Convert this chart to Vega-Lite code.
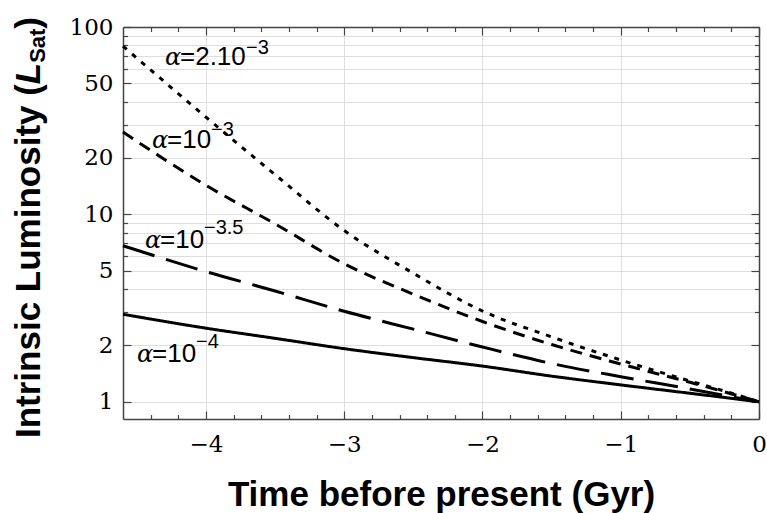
{
  "$schema": "https://vega.github.io/schema/vega-lite/v6.json",
  "width": 636,
  "height": 392,
  "autosize": "none",
  "padding": {"left": 123, "top": 27, "right": 8, "bottom": 94},
  "background": "white",
  "config": {"view": {"stroke": null}},
  "datasets": {
    "curves": [
      {"t": 0, "L": 1, "series": "a2e-3"},
      {"t": -0.25, "L": 1.14, "series": "a2e-3"},
      {"t": -0.5, "L": 1.29, "series": "a2e-3"},
      {"t": -1, "L": 1.67, "series": "a2e-3"},
      {"t": -1.5, "L": 2.22, "series": "a2e-3"},
      {"t": -2, "L": 3.05, "series": "a2e-3"},
      {"t": -2.5, "L": 4.85, "series": "a2e-3"},
      {"t": -3, "L": 8.2, "series": "a2e-3"},
      {"t": -3.5, "L": 16.3, "series": "a2e-3"},
      {"t": -4, "L": 33, "series": "a2e-3"},
      {"t": -4.3, "L": 51, "series": "a2e-3"},
      {"t": -4.6, "L": 79, "series": "a2e-3"},
      {"t": 0, "L": 1, "series": "a1e-3"},
      {"t": -0.25, "L": 1.13, "series": "a1e-3"},
      {"t": -0.5, "L": 1.27, "series": "a1e-3"},
      {"t": -1, "L": 1.59, "series": "a1e-3"},
      {"t": -1.5, "L": 2.02, "series": "a1e-3"},
      {"t": -2, "L": 2.68, "series": "a1e-3"},
      {"t": -2.5, "L": 3.75, "series": "a1e-3"},
      {"t": -3, "L": 5.45, "series": "a1e-3"},
      {"t": -3.5, "L": 8.9, "series": "a1e-3"},
      {"t": -4, "L": 14.3, "series": "a1e-3"},
      {"t": -4.6, "L": 27.5, "series": "a1e-3"},
      {"t": 0, "L": 1, "series": "a1e-3.5"},
      {"t": -0.25, "L": 1.08, "series": "a1e-3.5"},
      {"t": -0.5, "L": 1.17, "series": "a1e-3.5"},
      {"t": -1, "L": 1.36, "series": "a1e-3.5"},
      {"t": -1.5, "L": 1.6, "series": "a1e-3.5"},
      {"t": -2, "L": 1.96, "series": "a1e-3.5"},
      {"t": -2.5, "L": 2.44, "series": "a1e-3.5"},
      {"t": -3, "L": 3.04, "series": "a1e-3.5"},
      {"t": -3.5, "L": 3.9, "series": "a1e-3.5"},
      {"t": -4, "L": 4.95, "series": "a1e-3.5"},
      {"t": -4.6, "L": 6.8, "series": "a1e-3.5"},
      {"t": 0, "L": 1, "series": "a1e-4"},
      {"t": -0.5, "L": 1.11, "series": "a1e-4"},
      {"t": -1, "L": 1.23, "series": "a1e-4"},
      {"t": -1.5, "L": 1.37, "series": "a1e-4"},
      {"t": -2, "L": 1.55, "series": "a1e-4"},
      {"t": -2.5, "L": 1.72, "series": "a1e-4"},
      {"t": -3, "L": 1.92, "series": "a1e-4"},
      {"t": -3.5, "L": 2.18, "series": "a1e-4"},
      {"t": -4, "L": 2.47, "series": "a1e-4"},
      {"t": -4.6, "L": 2.93, "series": "a1e-4"}
    ],
    "labels": [
      {"kind": "alpha", "x": -4.2962, "y": 62.5, "text": "α"},
      {"kind": "alpha", "x": -4.3903, "y": 22.55, "text": "α"},
      {"kind": "alpha", "x": -4.4409, "y": 6.6, "text": "α"},
      {"kind": "alpha", "x": -4.4987, "y": 1.628, "text": "α"},
      {"kind": "lab", "x": -4.1878, "y": 62.5, "text": "=2.10"},
      {"kind": "lab", "x": -4.2818, "y": 22.55, "text": "=10"},
      {"kind": "lab", "x": -4.3324, "y": 6.6, "text": "=10"},
      {"kind": "lab", "x": -4.3903, "y": 1.628, "text": "=10"},
      {"kind": "sup", "x": -3.7104, "y": 71.5, "text": "−3"},
      {"kind": "sup", "x": -3.9635, "y": 26.13, "text": "−3"},
      {"kind": "sup", "x": -4.0141, "y": 7.84, "text": "−3.5"},
      {"kind": "sup", "x": -4.0720, "y": 1.943, "text": "−4"},
      {"kind": "yt", "x": -5.2003, "y": 0.6404, "text": "Intrinsic Luminosity ("},
      {"kind": "ytL", "x": -5.2003, "y": 49.48, "text": "L"},
      {"kind": "ytS", "x": -5.1641, "y": 64.36, "text": "Sat"},
      {"kind": "yt", "x": -5.2003, "y": 97.93, "text": ")"}
    ]
  },
  "resolve": {"axis": {"x": "independent", "y": "independent"}},
  "layer": [
    {
      "data": {"name": "curves"},
      "mark": {"type": "line", "interpolate": "monotone", "strokeWidth": 3, "color": "black"},
      "encoding": {
        "x": {
          "field": "t", "type": "quantitative",
          "scale": {"domain": [-4.6, 0], "nice": false, "zero": false},
          "axis": {
            "orient": "bottom",
            "values": [-4.4, -4.2, -4, -3.8, -3.6, -3.4, -3.2, -3, -2.8, -2.6, -2.4, -2.2, -2, -1.8, -1.6, -1.4, -1.2, -1, -0.8, -0.6, -0.4, -0.2, 0],
            "labelExpr": "abs(datum.value - round(datum.value)) < 0.001 ? (datum.value < -0.5 ? '−' + abs(round(datum.value)) : '0') : ''",
            "tickSize": {"condition": {"test": "abs(datum.value - round(datum.value)) < 0.001", "value": -8}, "value": -4.5},
            "gridOpacity": {"condition": {"test": "abs(datum.value - round(datum.value)) < 0.001 && datum.value < -0.5", "value": 1}, "value": 0},
            "grid": true, "gridColor": "#dedede", "gridWidth": 1,
            "labelPadding": 22, "labelFont": "DejaVu Serif", "labelFontSize": 23, "labelColor": "black",
            "labelFlush": false, "labelOverlap": false,
            "domainColor": "#444", "domainWidth": 1.5, "tickColor": "#444", "tickWidth": 1.2,
            "title": "Time before present (Gyr)", "titleFont": "Liberation Sans", "titleFontSize": 35,
            "titleFontWeight": "bold", "titleColor": "black", "titleBaseline": "alphabetic", "titleY": 86, "titleX": 318
          }
        },
        "y": {
          "field": "L", "type": "quantitative",
          "scale": {"type": "log", "domain": [0.809, 100], "nice": false},
          "axis": {
            "orient": "left",
            "values": [1, 2, 3, 4, 5, 6, 7, 8, 9, 10, 20, 30, 40, 50, 60, 70, 80, 90, 100],
            "labelExpr": "indexof([1, 2, 5, 10, 20, 50, 100], datum.value) >= 0 ? format(datum.value, 'd') : ''",
            "tickSize": {"condition": {"test": "indexof([1, 2, 5, 10, 20, 50, 100], datum.value) >= 0", "value": -8}, "value": -4.5},
            "grid": true, "gridColor": "#dedede", "gridWidth": 1,
            "labelPadding": 18, "labelFont": "DejaVu Serif", "labelFontSize": 23, "labelColor": "black",
            "labelOverlap": false, "labelFlush": false,
            "domainColor": "#444", "domainWidth": 1.5, "tickColor": "#444", "tickWidth": 1.2,
            "title": null
          }
        },
        "strokeDash": {
          "field": "series", "type": "nominal",
          "scale": {"domain": ["a2e-3", "a1e-3", "a1e-3.5", "a1e-4"], "range": [[5, 7], [12, 8], [33, 12], [1, 0]]},
          "legend": null
        }
      }
    },
    {
      "data": {"name": "curves"},
      "mark": {"type": "line", "opacity": 0},
      "encoding": {
        "x": {
          "field": "t", "type": "quantitative",
          "scale": {"domain": [-4.6, 0], "nice": false, "zero": false},
          "axis": {
            "orient": "top",
            "values": [-4.4, -4.2, -4, -3.8, -3.6, -3.4, -3.2, -3, -2.8, -2.6, -2.4, -2.2, -2, -1.8, -1.6, -1.4, -1.2, -1, -0.8, -0.6, -0.4, -0.2, 0],
            "labels": false, "grid": false,
            "tickSize": {"condition": {"test": "abs(datum.value - round(datum.value)) < 0.001", "value": -8}, "value": -4.5},
            "domainColor": "#444", "domainWidth": 1.5, "tickColor": "#444", "tickWidth": 1.2,
            "title": null
          }
        },
        "y": {
          "field": "L", "type": "quantitative",
          "scale": {"type": "log", "domain": [0.809, 100], "nice": false},
          "axis": {
            "orient": "right",
            "values": [1, 2, 3, 4, 5, 6, 7, 8, 9, 10, 20, 30, 40, 50, 60, 70, 80, 90, 100],
            "labels": false, "grid": false,
            "tickSize": {"condition": {"test": "indexof([1, 2, 5, 10, 20, 50, 100], datum.value) >= 0", "value": -8}, "value": -4.5},
            "domainColor": "#444", "domainWidth": 1.5, "tickColor": "#444", "tickWidth": 1.2,
            "title": null
          }
        },
        "detail": {"field": "series", "type": "nominal"}
      }
    },
    {
      "data": {"name": "labels"},
      "transform": [{"filter": "datum.kind === 'alpha'"}],
      "mark": {"type": "text", "align": "left", "baseline": "alphabetic", "font": "DejaVu Serif", "fontStyle": "italic", "fontSize": 24, "color": "black"},
      "encoding": {
        "x": {"field": "x", "type": "quantitative", "scale": {"domain": [-4.6, 0], "nice": false, "zero": false}, "axis": null},
        "y": {"field": "y", "type": "quantitative", "scale": {"type": "log", "domain": [0.809, 100], "nice": false}, "axis": null},
        "text": {"field": "text"}
      }
    },
    {
      "data": {"name": "labels"},
      "transform": [{"filter": "datum.kind === 'lab'"}],
      "mark": {"type": "text", "align": "left", "baseline": "alphabetic", "font": "Liberation Sans", "fontSize": 26, "color": "black"},
      "encoding": {
        "x": {"field": "x", "type": "quantitative", "scale": {"domain": [-4.6, 0], "nice": false, "zero": false}, "axis": null},
        "y": {"field": "y", "type": "quantitative", "scale": {"type": "log", "domain": [0.809, 100], "nice": false}, "axis": null},
        "text": {"field": "text"}
      }
    },
    {
      "data": {"name": "labels"},
      "transform": [{"filter": "datum.kind === 'sup'"}],
      "mark": {"type": "text", "align": "left", "baseline": "alphabetic", "font": "Liberation Sans", "fontSize": 20, "color": "black"},
      "encoding": {
        "x": {"field": "x", "type": "quantitative", "scale": {"domain": [-4.6, 0], "nice": false, "zero": false}, "axis": null},
        "y": {"field": "y", "type": "quantitative", "scale": {"type": "log", "domain": [0.809, 100], "nice": false}, "axis": null},
        "text": {"field": "text"}
      }
    },
    {
      "data": {"name": "labels"},
      "transform": [{"filter": "datum.kind === 'yt'"}],
      "mark": {"type": "text", "align": "left", "baseline": "alphabetic", "angle": 270, "font": "Liberation Sans", "fontWeight": "bold", "fontSize": 35, "color": "black"},
      "encoding": {
        "x": {"field": "x", "type": "quantitative", "scale": {"domain": [-4.6, 0], "nice": false, "zero": false}, "axis": null},
        "y": {"field": "y", "type": "quantitative", "scale": {"type": "log", "domain": [0.809, 100], "nice": false}, "axis": null},
        "text": {"field": "text"}
      }
    },
    {
      "data": {"name": "labels"},
      "transform": [{"filter": "datum.kind === 'ytL'"}],
      "mark": {"type": "text", "align": "left", "baseline": "alphabetic", "angle": 270, "font": "Liberation Sans", "fontWeight": "bold", "fontStyle": "italic", "fontSize": 35, "color": "black"},
      "encoding": {
        "x": {"field": "x", "type": "quantitative", "scale": {"domain": [-4.6, 0], "nice": false, "zero": false}, "axis": null},
        "y": {"field": "y", "type": "quantitative", "scale": {"type": "log", "domain": [0.809, 100], "nice": false}, "axis": null},
        "text": {"field": "text"}
      }
    },
    {
      "data": {"name": "labels"},
      "transform": [{"filter": "datum.kind === 'ytS'"}],
      "mark": {"type": "text", "align": "left", "baseline": "alphabetic", "angle": 270, "font": "Liberation Sans", "fontWeight": "bold", "fontSize": 22, "color": "black"},
      "encoding": {
        "x": {"field": "x", "type": "quantitative", "scale": {"domain": [-4.6, 0], "nice": false, "zero": false}, "axis": null},
        "y": {"field": "y", "type": "quantitative", "scale": {"type": "log", "domain": [0.809, 100], "nice": false}, "axis": null},
        "text": {"field": "text"}
      }
    }
  ]
}
